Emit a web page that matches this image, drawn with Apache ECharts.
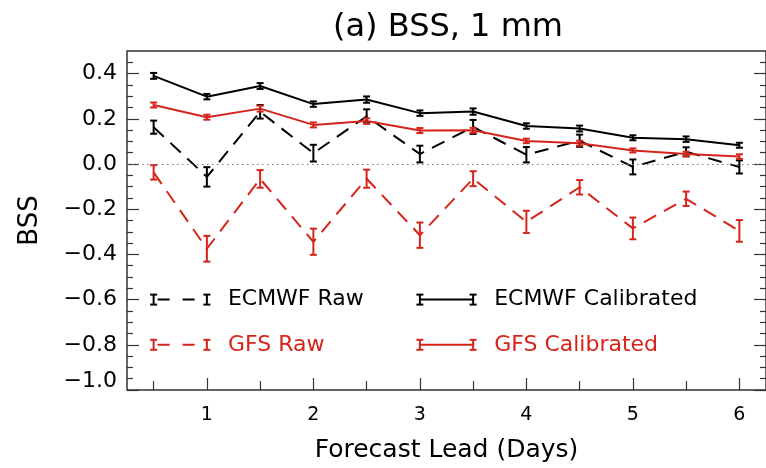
<!DOCTYPE html>
<html>
<head>
<meta charset="utf-8">
<script src="https://cdn.jsdelivr.net/npm/echarts@6/dist/echarts.min.js"></script>
<style>
  html, body { margin: 0; padding: 0; background: #fff; }
  #chart { width: 766px; height: 468px; }
</style>
</head>
<body>
<div id="chart"></div>
<script>
// Forecast lead (days)
const leads = [0.5, 1, 1.5, 2, 2.5, 3, 3.5, 4, 4.5, 5, 5.5, 6];

// Brier skill score, 1 mm threshold
const ecmwfRaw = [0.163, -0.057, 0.231, 0.048, 0.211, 0.044, 0.164, 0.041, 0.103, -0.013, 0.054, -0.013];
const ecmwfCal = [0.390, 0.298, 0.345, 0.265, 0.285, 0.225, 0.232, 0.168, 0.157, 0.116, 0.110, 0.083];
const gfsRaw   = [-0.037, -0.375, -0.066, -0.344, -0.065, -0.315, -0.065, -0.256, -0.103, -0.285, -0.154, -0.296];
const gfsCal   = [0.261, 0.207, 0.245, 0.173, 0.190, 0.148, 0.149, 0.102, 0.092, 0.060, 0.044, 0.033];

// Half-width of the confidence bars
const ecmwfRawErr = [0.029, 0.043, 0.030, 0.037, 0.031, 0.037, 0.031, 0.034, 0.027, 0.033, 0.020, 0.029];
const ecmwfCalErr = [0.013, 0.012, 0.013, 0.012, 0.014, 0.012, 0.014, 0.012, 0.013, 0.011, 0.012, 0.011];
const gfsRawErr   = [0.032, 0.057, 0.039, 0.058, 0.040, 0.056, 0.033, 0.049, 0.032, 0.048, 0.032, 0.048];
const gfsCalErr   = [0.011, 0.011, 0.013, 0.011, 0.012, 0.011, 0.011, 0.010, 0.011, 0.009, 0.010, 0.010];

// Axis ticks
const xTicks = [1, 2, 3, 4, 5, 6];
const xMinorTicks = [0.5, 1.5, 2.5, 3.5, 4.5, 5.5];
const yTicks = [-1.0, -0.8, -0.6, -0.4, -0.2, 0.0, 0.2, 0.4];
const yMinorTicks = [];
for (let k = -20; k <= 9; k++) { if (k % 4 !== 0) yMinorTicks.push(k * 0.05); }

const FONT = 'DejaVu Sans';
const BLACK = '#000000';
const RED = '#d5241b';
const DASH = [14, 9];

const chart = echarts.init(document.getElementById('chart'), null, { renderer: 'canvas' });

function points(ys, errs) {
  return leads.map((x, i) => [x, ys[i], errs[i]]);
}

function errorBars(color) {
  return function (params, api) {
    const x = api.value(0), y = api.value(1), e = api.value(2);
    const hi = api.coord([x, y + e]);
    const lo = api.coord([x, y - e]);
    const hw = 3.5;
    const st = { stroke: color, lineWidth: 2 };
    return {
      type: 'group',
      children: [
        { type: 'line', shape: { x1: hi[0], y1: hi[1], x2: lo[0], y2: lo[1] }, style: st },
        { type: 'line', shape: { x1: hi[0] - hw, y1: hi[1], x2: hi[0] + hw, y2: hi[1] }, style: st },
        { type: 'line', shape: { x1: lo[0] - hw, y1: lo[1], x2: lo[0] + hw, y2: lo[1] }, style: st }
      ]
    };
  };
}

function lineSeries(name, ys, errs, color, dashed) {
  return {
    name: name, type: 'line', data: points(ys, errs),
    symbol: 'none', xAxisIndex: 0, yAxisIndex: 0,
    lineStyle: { color: color, width: 2, type: dashed ? DASH : 'solid' },
    silent: true, animation: false, z: 3
  };
}

function barSeries(ys, errs, color) {
  return {
    type: 'custom', data: points(ys, errs), xAxisIndex: 0, yAxisIndex: 0,
    renderItem: errorBars(color), silent: true, animation: false, z: 4,
    encode: { x: 0, y: 1 }
  };
}

const tickStyle = { color: '#333', width: 1.2 };
const hiddenLine = { show: false, onZero: false };
const labelFmt = v => {
  const s = Number(v).toFixed(1).replace('-', '\u2212');
  return v <= -0.999 ? '{lift|' + s + '}' : s;
};

const option = {
  animation: false,
  backgroundColor: '#ffffff',
  title: {
    text: '(a) BSS, 1 mm', left: 443, top: 7, textAlign: 'center',
    textStyle: { fontFamily: FONT, fontSize: 32, fontWeight: 'normal', color: '#000' }
  },
  grid: {
    left: 127, top: 51, width: 643, height: 341,
    show: true, borderColor: '#333', borderWidth: 1.5, backgroundColor: 'transparent'
  },
  xAxis: [
    {
      type: 'value', min: 0.25, max: 6.25, position: 'bottom',
      name: 'Forecast Lead (Days)', nameLocation: 'middle', nameGap: 48,
      nameTextStyle: { fontFamily: FONT, fontSize: 25, color: '#000' },
      axisLine: hiddenLine, splitLine: { show: false },
      axisTick: { inside: true, length: 12, lineStyle: tickStyle, customValues: xTicks },
      axisLabel: { customValues: xTicks, margin: 16, fontFamily: FONT, fontSize: 19, color: '#000' }
    },
    {
      type: 'value', min: 0.25, max: 6.25, position: 'bottom',
      axisLine: hiddenLine, splitLine: { show: false }, axisLabel: { show: false },
      axisTick: { inside: true, length: 9, lineStyle: tickStyle, customValues: xMinorTicks }
    }
  ],
  yAxis: [
    {
      type: 'value', min: -1.0, max: 0.5, position: 'left',
      name: 'BSS', nameLocation: 'middle', nameGap: 84, nameRotate: 90,
      nameTextStyle: { fontFamily: FONT, fontSize: 26, color: '#000' },
      axisLine: hiddenLine, splitLine: { show: false },
      axisTick: { inside: true, length: 12, lineStyle: tickStyle, customValues: yTicks },
      axisLabel: {
        customValues: yTicks, margin: 10, formatter: labelFmt,
        fontFamily: FONT, fontSize: 22, color: '#000',
        rich: { lift: { fontFamily: FONT, fontSize: 22, color: '#000', padding: [0, 0, 18, 0] } }
      }
    },
    {
      type: 'value', min: -1.0, max: 0.5, position: 'left',
      axisLine: hiddenLine, splitLine: { show: false }, axisLabel: { show: false },
      axisTick: { inside: true, length: 6, lineStyle: tickStyle, customValues: yMinorTicks }
    },
    {
      type: 'value', min: -1.0, max: 0.5, position: 'right',
      axisLine: hiddenLine, splitLine: { show: false }, axisLabel: { show: false },
      axisTick: { inside: true, length: 12, lineStyle: tickStyle, customValues: yTicks }
    },
    {
      type: 'value', min: -1.0, max: 0.5, position: 'right',
      axisLine: hiddenLine, splitLine: { show: false }, axisLabel: { show: false },
      axisTick: { inside: true, length: 6, lineStyle: tickStyle, customValues: yMinorTicks }
    }
  ],
  series: [
    Object.assign(lineSeries('ECMWF Raw', ecmwfRaw, ecmwfRawErr, BLACK, true), {
      markLine: {
        silent: true, symbol: 'none', label: { show: false },
        lineStyle: { color: '#777', width: 1, type: [1.5, 3.5] },
        data: [{ yAxis: 0 }]
      }
    }),
    barSeries(ecmwfRaw, ecmwfRawErr, BLACK),
    lineSeries('GFS Raw', gfsRaw, gfsRawErr, RED, true),
    barSeries(gfsRaw, gfsRawErr, RED),
    lineSeries('ECMWF Calibrated', ecmwfCal, ecmwfCalErr, BLACK, false),
    barSeries(ecmwfCal, ecmwfCalErr, BLACK),
    lineSeries('GFS Calibrated', gfsCal, gfsCalErr, RED, false),
    barSeries(gfsCal, gfsCalErr, RED)
  ]
};

chart.setOption(option);

// Key drawn inside the plot, anchored to data coordinates
const keyItems = [
  { name: 'ECMWF Raw', color: BLACK, dashed: true, x0: 0.5, x1: 1.0, y: -0.6 },
  { name: 'GFS Raw', color: RED, dashed: true, x0: 0.5, x1: 1.0, y: -0.8 },
  { name: 'ECMWF Calibrated', color: BLACK, dashed: false, x0: 3.0, x1: 3.5, y: -0.6 },
  { name: 'GFS Calibrated', color: RED, dashed: false, x0: 3.0, x1: 3.5, y: -0.8 }
];
const graphics = [];
keyItems.forEach(it => {
  const a = chart.convertToPixel({ xAxisIndex: 0, yAxisIndex: 0 }, [it.x0, it.y]);
  const b = chart.convertToPixel({ xAxisIndex: 0, yAxisIndex: 0 }, [it.x1, it.y]);
  const st = { stroke: it.color, lineWidth: 2 };
  graphics.push({
    type: 'line', shape: { x1: a[0], y1: a[1], x2: b[0], y2: b[1] },
    style: Object.assign({}, st, it.dashed ? { lineDash: [12, 13], lineDashOffset: -4 } : {})
  });
  [a[0], b[0]].forEach(px => {
    graphics.push({ type: 'line', shape: { x1: px, y1: a[1] - 5, x2: px, y2: a[1] + 5 }, style: st });
    graphics.push({ type: 'line', shape: { x1: px - 3.5, y1: a[1] - 5, x2: px + 3.5, y2: a[1] - 5 }, style: st });
    graphics.push({ type: 'line', shape: { x1: px - 3.5, y1: a[1] + 5, x2: px + 3.5, y2: a[1] + 5 }, style: st });
  });
  graphics.push({
    type: 'text', x: b[0] + 21, y: a[1],
    style: { text: it.name, fill: it.color, font: '22px "' + FONT + '"', verticalAlign: 'middle', align: 'left' }
  });
});
chart.setOption({ graphic: graphics });
</script>
</body>
</html>
